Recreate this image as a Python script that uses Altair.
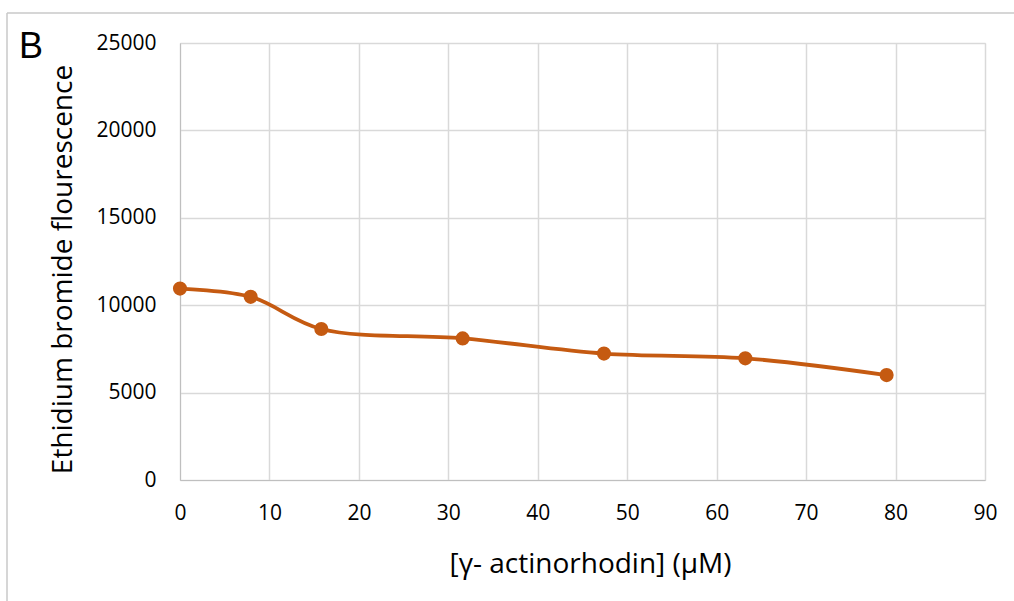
import altair as alt
import pandas as pd

conc = [0, 7.9, 15.8, 31.6, 47.4, 63.2, 79.0]
fluor = [10950, 10480, 8640, 8100, 7230, 6960, 6000]

df = pd.DataFrame({"conc": conc, "fluor": fluor})

FONT = "Open Sans"
COLOR = "#C55A11"

common = dict(labelFontSize=21, titleFontWeight="normal",
              labelFont=FONT, titleFont=FONT, labelColor="#000", titleColor="#000",
              ticks=False, labelFlush=False, domainColor="#bfbfbf",
              gridColor="#d9d9d9", gridWidth=1.5, format="d")

x = alt.X("conc:Q", scale=alt.Scale(domain=[0, 90], nice=False),
          axis=alt.Axis(values=list(range(0, 91, 10)), title="[γ- actinorhodin] (μM)",
                        titleFontSize=28, labelPadding=22, titlePadding=27, titleX=410, **common))
y = alt.Y("fluor:Q", scale=alt.Scale(domain=[0, 25000], nice=False),
          axis=alt.Axis(values=list(range(0, 25001, 5000)), title="Ethidium bromide flourescence",
                        titleFontSize=28, labelPadding=24, titlePadding=18, titleY=226, **common))

base = alt.Chart(df)
line = base.mark_line(interpolate="catmull-rom", color=COLOR, strokeWidth=3.8).encode(x=x, y=y)
pts = base.mark_circle(color=COLOR, opacity=1, size=200).encode(x="conc:Q", y="fluor:Q")

label = alt.Chart(pd.DataFrame({"t": ["B"]})).mark_text(
    fontSize=36, font="Liberation Sans", align="left", baseline="middle", color="#000"
).encode(text="t:N", x=alt.value(-161), y=alt.value(4))

frame_top = alt.Chart(pd.DataFrame({"a": [0]})).mark_rule(color="#c8c8c8", strokeWidth=1.5).encode(
    x=alt.value(-173), x2=alt.value(834), y=alt.value(-30))
frame_left = alt.Chart(pd.DataFrame({"a": [0]})).mark_rule(color="#c8c8c8", strokeWidth=1.5).encode(
    x=alt.value(-173), y=alt.value(-30), y2=alt.value(560))

chart = alt.layer(frame_top, frame_left, line, pts, label).properties(
    width=805, height=437,
    autosize=alt.AutoSizeParams(type="none"),
    padding={"left": 180, "top": 43, "right": 29, "bottom": 121},
).configure_view(stroke="#d9d9d9", strokeWidth=1.5).configure(background="white")

chart.save("out.html", embed_options={"renderer": "svg", "actions": False})
